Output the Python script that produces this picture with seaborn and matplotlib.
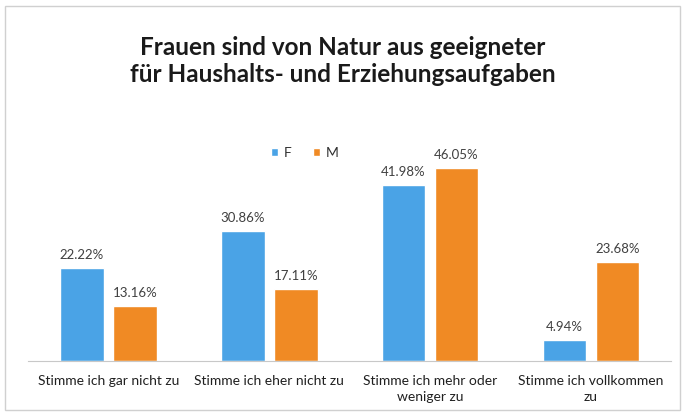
import pandas as pd
import matplotlib.pyplot as plt
import seaborn as sns
from matplotlib.patches import Rectangle

# Data
categories = ['Stimme ich gar nicht zu', 'Stimme ich eher nicht zu',
              'Stimme ich mehr oder\nweniger zu', 'Stimme ich vollkommen\nzu']
f_values = [22.22, 30.86, 41.98, 4.94]
m_values = [13.16, 17.11, 46.05, 23.68]
groups = ['F', 'M']
colors = ['#4aa3e6', '#f08a24']

df = pd.DataFrame({
    'Kategorie': categories * 2,
    'Geschlecht': ['F'] * 4 + ['M'] * 4,
    'Wert': f_values + m_values,
})

sns.set_style('white')
plt.rcParams['font.family'] = ['Lato', 'DejaVu Sans']

fig = plt.figure(figsize=(6.85, 4.18), dpi=100)
ax = fig.add_axes([0.041, 0.136, 0.939, 0.503])

sns.barplot(data=df, x='Kategorie', y='Wert', hue='Geschlecht',
            hue_order=groups, palette=colors, width=0.66, gap=0.18,
            saturation=1, ax=ax)

for cont in ax.containers:
    ax.bar_label(cont, labels=[f'{v:.2f}%' for v in cont.datavalues],
                 padding=5, fontsize=9.5, color='#404040')

ax.set_ylim(0, 50)
ax.set_xlim(-0.5, 3.5)
ax.set_xlabel('')
ax.set_ylabel('')
ax.set_yticks([])
for side in ['left', 'right', 'top']:
    ax.spines[side].set_visible(False)
ax.spines['bottom'].set_color('#c8c8c8')
ax.tick_params(axis='x', length=0, labelsize=10, colors='#202020', pad=10)
for lbl in ax.get_xticklabels():
    lbl.set_linespacing(1.4)

leg = ax.legend(loc='center', bbox_to_anchor=(0.445, 0.635), bbox_transform=fig.transFigure,
                ncol=2, frameon=False, fontsize=10, handlelength=0.5, handleheight=0.5,
                columnspacing=1.6, handletextpad=0.4)
for t in leg.get_texts():
    t.set_color('#303030')

fig.text(0.5, 0.855, 'Frauen sind von Natur aus geeigneter\nfür Haushalts- und Erziehungsaufgaben',
         ha='center', va='center', fontsize=17.5, fontweight='bold', color='#1a1a1a',
         linespacing=1.2)

fig.patches.append(Rectangle((0.008, 0.02), 0.984, 0.965, transform=fig.transFigure,
                             fill=False, edgecolor='#d0d0d0', linewidth=1))

fig.savefig('out.png', dpi=100)
